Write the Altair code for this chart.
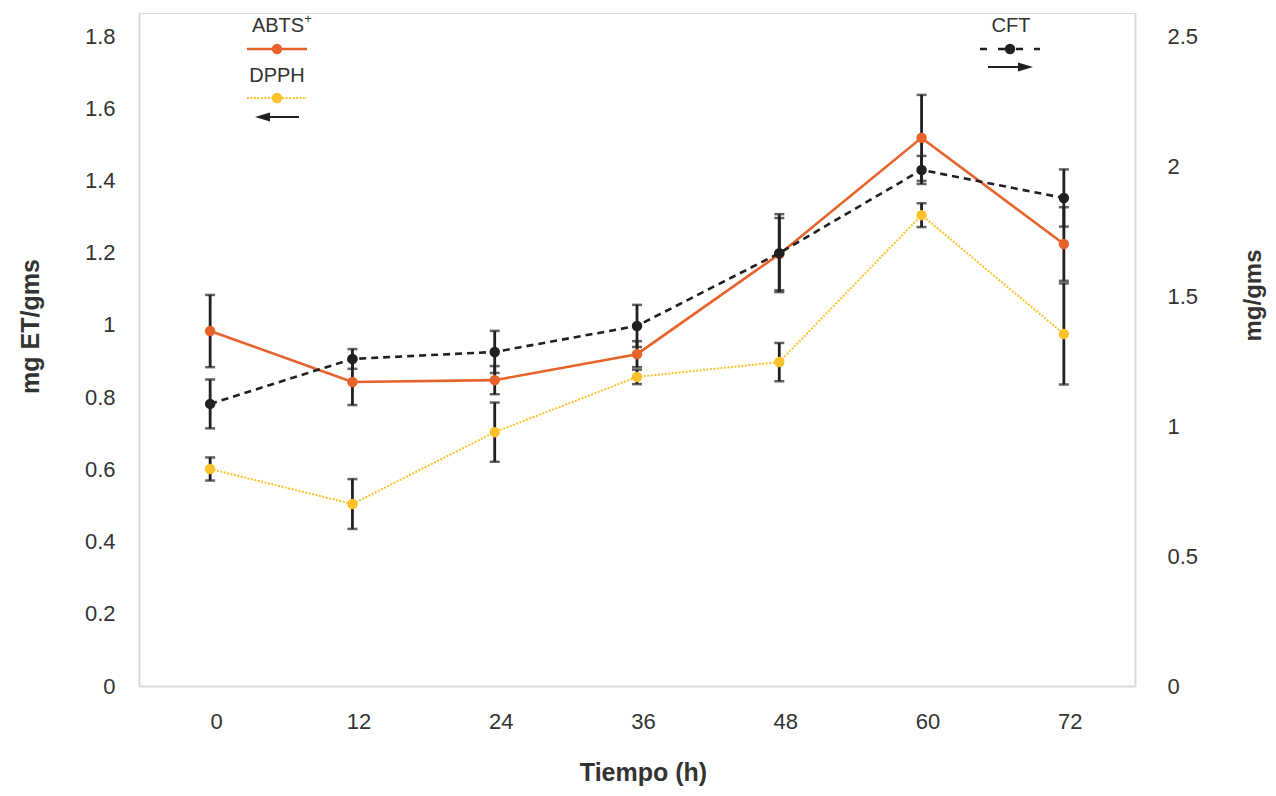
import altair as alt
import pandas as pd

# ---- data ----
labels = ["0", "12", "24", "36", "48", "60", "72"]
abts = [0.983, 0.842, 0.847, 0.919, 1.196, 1.518, 1.224]
abts_err = [0.100, 0.064, 0.039, 0.036, 0.100, 0.119, 0.102]
dpph = [0.601, 0.504, 0.703, 0.856, 0.897, 1.304, 0.975]
dpph_err = [0.032, 0.069, 0.082, 0.020, 0.053, 0.033, 0.140]
cft = [1.085, 1.258, 1.285, 1.385, 1.665, 1.985, 1.877]
cft_err = [0.094, 0.038, 0.081, 0.081, 0.150, 0.054, 0.110]

left_ticks = [0, 0.2, 0.4, 0.6, 0.8, 1, 1.2, 1.4, 1.6, 1.8]
right_ticks = [0, 0.5, 1, 1.5, 2, 2.5]

ORANGE = "#E8632B"
YELLOW = "#FDC22B"
BLACK = "#231F20"
TXT = "#333333"
FONT = "Liberation Sans"


def frame(vals, errs):
    return pd.DataFrame({"t": labels, "v": vals, "e": errs})


df_abts = frame(abts, abts_err)
df_dpph = frame(dpph, dpph_err)
df_cft = frame(cft, cft_err)

X = alt.X(
    "t:O",
    sort=labels,
    scale=alt.Scale(type="point", padding=0.5),
    axis=alt.Axis(
        title="Tiempo (h)",
        labelAngle=0,
        labelFontSize=22,
        labelColor=TXT,
        labelPadding=25,
        labelOffset=6,
        ticks=False,
        domainColor="#d9d9d9",
        domainWidth=2,
        titleFontSize=25,
        titleFontWeight="bold",
        titleColor=TXT,
        titleX=504,
        titleY=86,
        titleBaseline="middle",
        titleAlign="center",
    ),
)

left_scale = alt.Scale(domain=[0, 1.8638], nice=False, zero=True)
right_scale = alt.Scale(domain=[0, 2.5886], nice=False, zero=True)

left_axis = alt.Axis(
    orient="left",
    values=left_ticks,
    format="~g",
    ticks=False,
    grid=False,
    labelFontSize=22,
    labelColor=TXT,
    labelPadding=24,
    domainColor="#d9d9d9",
    domainWidth=2,
    title="mg ET/gms",
    titleFontSize=25,
    titleFontWeight="bold",
    titleColor=TXT,
    titleAngle=270,
    titleX=-109,
    titleY=313,
    titleAlign="center",
    titleBaseline="middle",
)

right_axis = alt.Axis(
    orient="right",
    values=right_ticks,
    format="~g",
    ticks=False,
    grid=False,
    labelFontSize=22,
    labelColor=TXT,
    labelPadding=32,
    labelAlign="left",
    domainColor="#d9d9d9",
    domainWidth=2,
    title="mg/gms",
    titleFontSize=24,
    titleFontWeight="bold",
    titleColor=TXT,
    titleAngle=270,
    titleX=118,
    titleY=282,
    titleAlign="center",
    titleBaseline="middle",
)


def series(df, scale, axis, color, width, dash, title):
    base = alt.Chart(df).transform_calculate(
        lo="datum.v - datum.e", hi="datum.v + datum.e"
    )
    line_kw = dict(color=color, strokeWidth=width)
    if dash:
        line_kw["strokeDash"] = dash
    line = base.mark_line(**line_kw).encode(
        x=X, y=alt.Y("v:Q", scale=scale, axis=axis, title=title)
    )
    rule = base.mark_rule(color=BLACK, strokeWidth=2.8).encode(
        x=X,
        y=alt.Y("lo:Q", scale=scale, axis=axis, title=title),
        y2="hi:Q",
    )
    cap_lo = base.mark_tick(color=BLACK, size=10, thickness=2.5).encode(
        x=X, y=alt.Y("lo:Q", scale=scale, axis=axis, title=title)
    )
    cap_hi = base.mark_tick(color=BLACK, size=10, thickness=2.5).encode(
        x=X, y=alt.Y("hi:Q", scale=scale, axis=axis, title=title)
    )
    pts = base.mark_circle(color=color, size=110, opacity=1).encode(
        x=X, y=alt.Y("v:Q", scale=scale, axis=axis, title=title)
    )
    return [line, rule, cap_lo, cap_hi, pts]


left_group = alt.layer(
    *series(df_abts, left_scale, left_axis, ORANGE, 2.6, None, "mg ET/gms"),
    *series(df_dpph, left_scale, left_axis, YELLOW, 2.0, [2, 1.5], "mg ET/gms"),
)
right_group = alt.layer(
    *series(df_cft, right_scale, right_axis, BLACK, 2.6, [7, 5], "mg/gms"),
)

# ---- hand-drawn legend (annotation) ----
one = pd.DataFrame({"k": [0]})


def txt(s, x, y, size=20):
    return alt.Chart(one).mark_text(
        text=s, fontSize=size, color=TXT, font=FONT, align="center", baseline="middle"
    ).encode(x=alt.value(x), y=alt.value(y))


def hline(x1, x2, y, color, width, dash=None):
    kw = dict(color=color, strokeWidth=width)
    if dash:
        kw["strokeDash"] = dash
    return alt.Chart(one).mark_rule(**kw).encode(
        x=alt.value(x1), x2=alt.value(x2), y=alt.value(y)
    )


def dot(x, y, color):
    return alt.Chart(one).mark_circle(color=color, size=110, opacity=1).encode(
        x=alt.value(x), y=alt.value(y)
    )


def head(x, y, left):
    path = "M -1 0 L 1 -0.6 L 1 0.6 Z" if left else "M 1 0 L -1 -0.6 L -1 0.6 Z"
    return alt.Chart(one).mark_point(
        shape=path, filled=True, color=BLACK, size=225, opacity=1, strokeWidth=0
    ).encode(x=alt.value(x), y=alt.value(y))


legend = [
    txt("ABTS", 139, 13),
    txt("+", 169, 6, 13),
    hline(108, 168, 36, ORANGE, 2.6),
    dot(138, 36, ORANGE),
    txt("DPPH", 138, 63),
    hline(108, 168, 85, YELLOW, 2.0, [2, 1.5]),
    dot(138, 85, YELLOW),
    hline(122, 160, 104, BLACK, 1.8),
    head(123.5, 104, True),
    txt("CFT", 872, 13),
    hline(841, 901, 36, BLACK, 2.6, [7, 11]),
    dot(871, 36, BLACK),
    hline(849, 888, 54, BLACK, 1.8),
    head(886.5, 54, False),
]

chart = (
    alt.layer(left_group, right_group, *legend)
    .resolve_scale(y="independent")
    .properties(
        width=996,
        height=673,
        autosize=alt.AutoSizeParams(type="none"),
        padding={"left": 131, "top": 5, "right": 133, "bottom": 102},
    )
    .configure_view(stroke=None)
    .configure(font=FONT)
)

chart.save("out.html", embed_options={"renderer": "svg", "actions": False})
